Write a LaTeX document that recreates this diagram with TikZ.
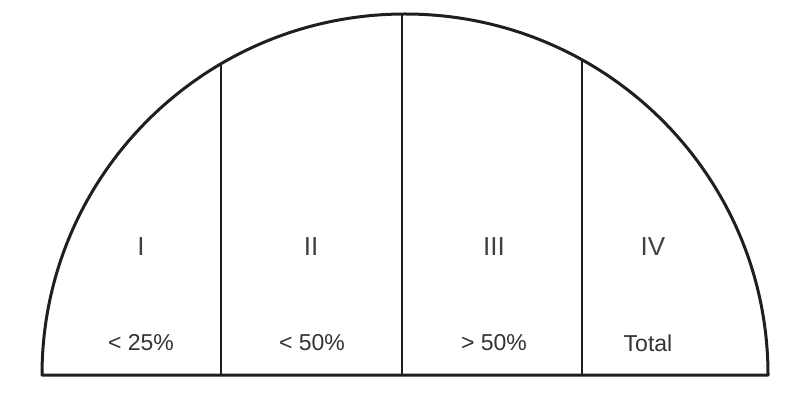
\documentclass[tikz,border=0pt]{standalone}
\usepackage{fontspec}
\setmainfont{Liberation Sans}
\begin{document}
\begin{tikzpicture}[x=1pt,y=1pt,
  outline/.style={line width=3pt, draw=black!88, line join=round},
  divider/.style={line width=2.8pt, draw=black!88},
  numeral/.style={font=\fontsize{26}{28}\selectfont, text=black!75, inner sep=0pt},
  share/.style={font=\fontsize{23}{26}\selectfont, text=black!80, inner sep=0pt}]
\useasboundingbox (0,0) rectangle (791,396);
% outline: half ellipse on a base line
\draw[outline] (42,21) arc[start angle=180, end angle=0, x radius=363, y radius=361] -- cycle;
% dividers
\coordinate (b1) at (221,21); \coordinate (t1) at (221,332.2);
\coordinate (b2) at (402,21); \coordinate (t2) at (402,382);
\coordinate (b3) at (582,21); \coordinate (t3) at (582,336.2);
\draw[divider] (b1) -- (t1);
\draw[divider] (b2) -- (t2);
\draw[divider] (b3) -- (t3);
% labels
\node[numeral] (n1) at (141,149) {I};
\node[numeral] (n2) at (311,149) {II};
\node[numeral] (n3) at (494,149) {III};
\node[numeral] (n4) at (653,149) {IV};
\node[share] (p1) at (141,53) {< 25\%};
\node[share] (p2) at (312,53) {< 50\%};
\node[share] (p3) at (494,53) {> 50\%};
\node[share] (p4) at (648,53) {Total};
\end{tikzpicture}
\end{document}
